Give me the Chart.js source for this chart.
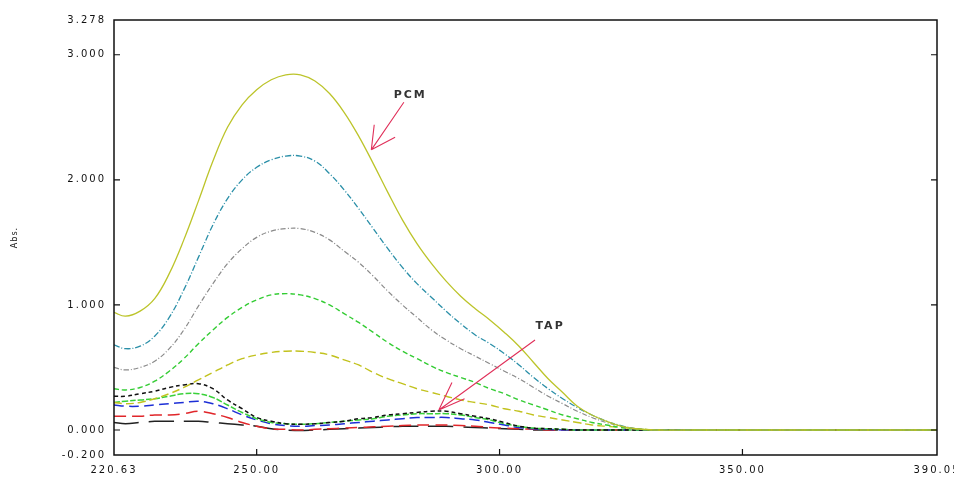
<!DOCTYPE html>
<html>
<head>
<meta charset="utf-8">
<script src="https://cdn.jsdelivr.net/npm/chart.js@4.4.0/dist/chart.umd.min.js"></script>
<style>
  html, body { margin: 0; padding: 0; background: #fff; }
  #wrap { width: 954px; height: 480px; position: relative; }
</style>
</head>
<body>
<div id="wrap"><canvas id="myChart"></canvas></div>
<script>
// longitudes de onda (nm)
const wavelengths = [220.63, 223, 226, 229, 232, 235, 238, 241, 244, 247, 250, 253, 256, 259, 262, 265, 268, 271, 274, 277, 280, 283, 286, 289, 292, 295, 298, 301, 304, 307, 310, 313, 316, 319, 322, 325, 328, 332, 340, 360, 390.05];

// espectros PCM (absorbancia)
const pcm1 = [0.94, 0.91, 0.95, 1.05, 1.25, 1.52, 1.83, 2.15, 2.42, 2.60, 2.72, 2.80, 2.84, 2.84, 2.79, 2.69, 2.54, 2.35, 2.13, 1.90, 1.68, 1.49, 1.33, 1.19, 1.07, 0.97, 0.88, 0.78, 0.67, 0.54, 0.41, 0.30, 0.19, 0.12, 0.07, 0.03, 0.01, 0, 0, 0, 0];
const pcm2 = [0.68, 0.65, 0.67, 0.75, 0.90, 1.12, 1.38, 1.64, 1.85, 2.00, 2.10, 2.16, 2.19, 2.19, 2.15, 2.05, 1.92, 1.77, 1.61, 1.45, 1.30, 1.17, 1.06, 0.95, 0.85, 0.76, 0.69, 0.61, 0.52, 0.42, 0.33, 0.25, 0.18, 0.12, 0.07, 0.035, 0.01, 0, 0, 0, 0];
const pcm3 = [0.50, 0.48, 0.50, 0.55, 0.65, 0.80, 0.99, 1.17, 1.33, 1.45, 1.54, 1.59, 1.61, 1.61, 1.58, 1.52, 1.43, 1.34, 1.23, 1.11, 1.00, 0.90, 0.80, 0.72, 0.65, 0.59, 0.53, 0.47, 0.41, 0.34, 0.27, 0.21, 0.15, 0.10, 0.06, 0.03, 0.01, 0, 0, 0, 0];
const pcm4 = [0.33, 0.32, 0.34, 0.39, 0.47, 0.57, 0.69, 0.80, 0.90, 0.98, 1.04, 1.08, 1.09, 1.08, 1.05, 1.00, 0.93, 0.86, 0.78, 0.70, 0.63, 0.57, 0.51, 0.46, 0.42, 0.38, 0.33, 0.29, 0.24, 0.20, 0.16, 0.12, 0.09, 0.06, 0.04, 0.02, 0.01, 0, 0, 0, 0];
const pcm5 = [0.22, 0.21, 0.22, 0.25, 0.29, 0.34, 0.40, 0.46, 0.52, 0.57, 0.60, 0.62, 0.63, 0.63, 0.62, 0.60, 0.56, 0.52, 0.46, 0.41, 0.37, 0.33, 0.30, 0.27, 0.24, 0.22, 0.20, 0.17, 0.15, 0.12, 0.10, 0.08, 0.06, 0.04, 0.03, 0.02, 0.01, 0, 0, 0, 0];

// espectros TAP
const tap1 = [0.27, 0.27, 0.29, 0.31, 0.34, 0.36, 0.37, 0.33, 0.24, 0.17, 0.10, 0.07, 0.05, 0.045, 0.05, 0.06, 0.07, 0.09, 0.10, 0.12, 0.13, 0.14, 0.15, 0.15, 0.13, 0.11, 0.09, 0.06, 0.03, 0.015, 0.01, 0.005, 0, 0, 0, 0, 0, 0, 0, 0, 0];
const tap2 = [0.22, 0.23, 0.24, 0.25, 0.27, 0.29, 0.29, 0.26, 0.20, 0.14, 0.09, 0.06, 0.05, 0.045, 0.05, 0.06, 0.07, 0.08, 0.09, 0.11, 0.12, 0.13, 0.13, 0.13, 0.12, 0.10, 0.08, 0.05, 0.03, 0.015, 0.01, 0.005, 0, 0, 0, 0, 0, 0, 0, 0, 0];
const tap3 = [0.20, 0.19, 0.19, 0.20, 0.21, 0.22, 0.23, 0.21, 0.17, 0.12, 0.08, 0.05, 0.035, 0.03, 0.035, 0.04, 0.05, 0.06, 0.07, 0.08, 0.09, 0.10, 0.10, 0.10, 0.09, 0.08, 0.06, 0.04, 0.02, 0.01, 0.005, 0, 0, 0, 0, 0, 0, 0, 0, 0, 0];
const tap4 = [0.11, 0.11, 0.11, 0.12, 0.12, 0.13, 0.15, 0.13, 0.10, 0.06, 0.03, 0.01, 0.005, 0, 0.005, 0.01, 0.015, 0.02, 0.025, 0.03, 0.035, 0.04, 0.04, 0.04, 0.035, 0.03, 0.02, 0.015, 0.01, 0.005, 0, 0, 0, 0, 0, 0, 0, 0, 0, 0, 0];
const tap5 = [0.06, 0.05, 0.06, 0.07, 0.07, 0.07, 0.07, 0.06, 0.05, 0.04, 0.03, 0.01, 0, -0.005, 0, 0.005, 0.01, 0.015, 0.02, 0.025, 0.03, 0.03, 0.03, 0.03, 0.025, 0.02, 0.015, 0.01, 0.005, 0, 0, 0, 0, 0, 0, 0, 0, 0, 0, 0, 0];

// etiquetas de los ejes
const xTicks = [220.63, 250, 300, 350, 390.05];
const yTicks = [-0.2, 0, 1, 2, 3, 3.278];

const fuente = { family: 'DejaVu Sans', size: 10 };

//arma un dataset con su estilo
function serie(valores, color, dash, ancho) {
    return {
        data: wavelengths.map((w, i) => ({ x: w, y: valores[i] })),
        borderColor: color,
        borderWidth: ancho,
        borderDash: dash,
        pointRadius: 0,
        fill: false,
        tension: 0.4
    };
}

//pixel a partir de valores del grafico
function px(chart, p) {
    return [chart.scales.x.getPixelForValue(p[0]), chart.scales.y.getPixelForValue(p[1])];
}

function flecha(ctx, chart, cola, punta, barbas) {
    const t = px(chart, cola);
    const h = px(chart, punta);
    ctx.beginPath();
    ctx.moveTo(t[0], t[1]);
    ctx.lineTo(h[0], h[1]);
    barbas.forEach(b => {
        const q = px(chart, b);
        ctx.moveTo(h[0], h[1]);
        ctx.lineTo(q[0], q[1]);
    });
    ctx.stroke();
}

//marco, marcas internas y anotaciones
const marco = {
    id: 'marco',
    beforeUpdate(chart) { chart.ctx.letterSpacing = '2px'; },
    beforeDraw(chart) { chart.ctx.letterSpacing = '2px'; },
    afterDraw(chart) {
        const { ctx, chartArea: a, scales: { x, y } } = chart;
        ctx.save();
        ctx.strokeStyle = '#111';
        ctx.lineWidth = 1.5;
        ctx.strokeRect(a.left, a.top, a.right - a.left, a.bottom - a.top);

        ctx.lineWidth = 1.2;
        ctx.beginPath();
        x.ticks.forEach(t => {
            const p = x.getPixelForValue(t.value);
            if (p > a.left + 2 && p < a.right - 2) {
                ctx.moveTo(p, a.bottom);
                ctx.lineTo(p, a.bottom - 6);
            }
        });
        y.ticks.forEach(t => {
            const p = y.getPixelForValue(t.value);
            if (p > a.top + 2 && p < a.bottom - 2) {
                ctx.moveTo(a.left, p);
                ctx.lineTo(a.left + 6, p);
                ctx.moveTo(a.right, p);
                ctx.lineTo(a.right - 6, p);
            }
        });
        ctx.stroke();

        // flechas PCM y TAP
        ctx.strokeStyle = '#e0305a';
        ctx.lineWidth = 1.1;
        flecha(ctx, chart, [280.3, 2.62], [273.6, 2.24], [[274.2, 2.44], [278.5, 2.34]]);
        flecha(ctx, chart, [307.3, 0.72], [287.5, 0.16], [[290.2, 0.38], [292.8, 0.25]]);

        ctx.letterSpacing = '2px';
        ctx.fillStyle = '#333';
        ctx.font = 'bold 11px "DejaVu Sans"';
        ctx.textAlign = 'center';
        ctx.textBaseline = 'middle';
        let p = px(chart, [281.6, 2.68]);
        ctx.fillText('PCM', p[0], p[1]);
        p = px(chart, [310.4, 0.83]);
        ctx.fillText('TAP', p[0], p[1]);

        // titulos de ejes
        ctx.letterSpacing = '1px';
        ctx.font = '8px "DejaVu Sans"';
        ctx.fillStyle = '#222';
        ctx.translate(15, (a.top + a.bottom) / 2);
        ctx.rotate(-Math.PI / 2);
        ctx.fillText('Abs.', 0, 0);
        ctx.restore();

        ctx.save();
        ctx.letterSpacing = '1px';
        ctx.font = '8px "DejaVu Sans"';
        ctx.fillStyle = '#222';
        ctx.textAlign = 'center';
        ctx.textBaseline = 'middle';
        ctx.fillText('nm', (a.left + a.right) / 2 - 10, 484);
        ctx.restore();
    }
};

const ctx = document.querySelector('#myChart').getContext('2d');

new Chart(ctx, {
    type: 'line',
    data: {
        datasets: [
            serie(pcm1, '#bcc42a', [], 1.3),
            serie(pcm2, '#2a8fa8', [6, 2, 1, 2], 1.3),
            serie(pcm3, '#8a8a8a', [5, 2, 1, 2], 1.2),
            serie(pcm4, '#33cc33', [5, 3], 1.4),
            serie(pcm5, '#c2c21e', [8, 4], 1.4),
            serie(tap1, '#111111', [4, 3], 1.5),
            serie(tap2, '#3ad13a', [6, 2], 1.5),
            serie(tap3, '#1d2fd6', [10, 5], 1.5),
            serie(tap4, '#e0262a', [12, 6], 1.5),
            serie(tap5, '#222222', [25, 10], 1.5)
        ]
    },
    options: {
        responsive: true,
        maintainAspectRatio: false,
        animation: false,
        layout: { padding: { top: 20, right: 17, left: 0, bottom: 0 } },
        plugins: { legend: { display: false }, tooltip: { enabled: false } },
        scales: {
            x: {
                type: 'linear',
                min: 220.63,
                max: 390.05,
                afterBuildTicks: s => { s.ticks = xTicks.map(v => ({ value: v })); },
                afterFit: s => { s.height = 25; s.paddingLeft = 0; s.paddingRight = 0; },
                ticks: {
                    callback: v => Number(v).toFixed(2),
                    font: fuente,
                    color: '#111',
                    padding: 1,
                    maxRotation: 0,
                    autoSkip: false
                },
                grid: { display: false },
                border: { display: false }
            },
            y: {
                min: -0.2,
                max: 3.278,
                afterBuildTicks: s => { s.ticks = yTicks.map(v => ({ value: v })); },
                afterFit: s => { s.width = 114; s.paddingTop = 0; s.paddingBottom = 0; },
                ticks: {
                    callback: v => Number(v).toFixed(3),
                    font: fuente,
                    color: '#111',
                    padding: 0,
                    autoSkip: false
                },
                grid: { display: false },
                border: { display: false }
            }
        }
    },
    plugins: [marco]
});
</script>
</body>
</html>
